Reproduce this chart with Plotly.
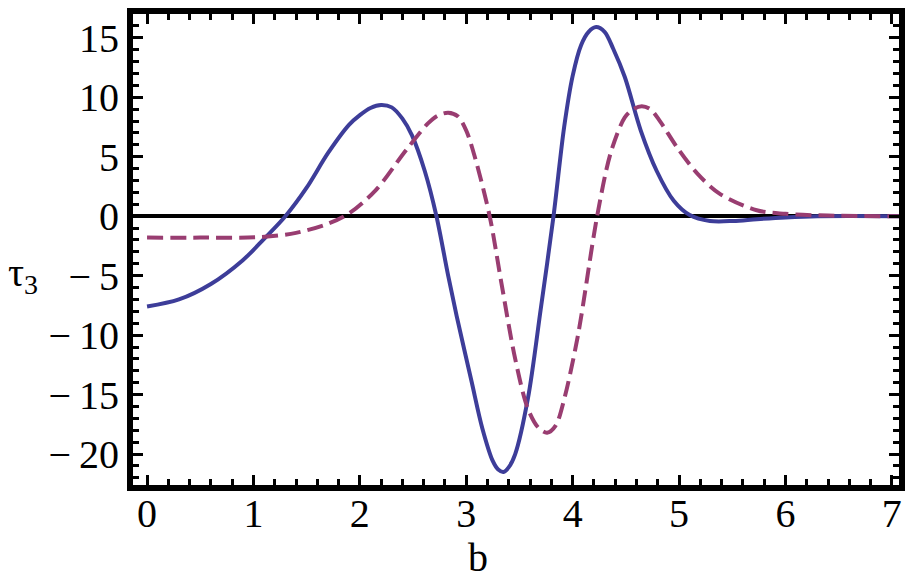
import plotly.graph_objects as go

# Blue solid curve
b_blue = [0, 0.3, 0.6, 0.9, 1.1, 1.3, 1.5, 1.7, 1.9, 2.0, 2.1, 2.2, 2.3, 2.4, 2.49, 2.61, 2.72,
          2.83, 2.91, 3.05, 3.15, 3.25, 3.3, 3.35, 3.4, 3.46, 3.58, 3.70, 3.82, 3.92, 4.0, 4.08,
          4.15, 4.22, 4.3, 4.38, 4.49, 4.64, 4.79, 4.95, 5.10, 5.29, 5.51, 5.73, 6.0, 6.3, 7.1]
tau_blue = [-7.6, -7.0, -5.7, -3.7, -1.9, 0, 2.4, 5.3, 7.7, 8.5, 9.1, 9.35, 9.15, 8.2, 6.8, 3.8, 0,
            -5.0, -8.4, -13.9, -17.8, -20.6, -21.3, -21.5, -21.1, -20.0, -15.3, -7.8, 0, 7.5, 11.8, 14.4,
            15.5, 15.9, 15.5, 14.1, 11.7, 7.2, 3.8, 1.3, 0.1, -0.4, -0.4, -0.25, -0.1, 0, 0]

# Magenta dashed curve
b_red = [0, 0.5, 1.08, 1.4, 1.71, 1.9, 2.15, 2.43, 2.64, 2.73, 2.83, 2.92, 3.0, 3.08, 3.22, 3.33, 3.46,
         3.58, 3.68, 3.76, 3.84, 3.92, 4.05, 4.23, 4.36, 4.49, 4.57, 4.65, 4.73, 4.82, 4.98, 5.17,
         5.38, 5.73, 6.0, 6.4, 7.1]
tau_red = [-1.8, -1.8, -1.75, -1.4, -0.6, 0.25, 2.2, 5.5, 7.8, 8.45, 8.7, 8.4, 7.2, 5.0, 0, -5.6, -12,
           -16.2, -17.8, -18.2, -17.6, -15.4, -10, 0, 5.4, 8.3, 9.0, 9.25, 9.0, 8.0, 5.8, 3.6,
           1.9, 0.5, 0.2, 0.05, 0]

x_ticks = [0, 1, 2, 3, 4, 5, 6, 7]
x_tick_labels = ["0", "1", "2", "3", "4", "5", "6", "7"]
y_ticks = [-20, -15, -10, -5, 0, 5, 10, 15]
y_tick_labels = ["\u2212\u200920", "\u2212\u200915", "\u2212\u200910", "\u2212\u20095", "0", "5", "10", "15"]

fig = go.Figure()
fig.add_trace(go.Scatter(x=b_blue, y=tau_blue, mode="lines",
                         line=dict(color="#3D3D99", width=4, shape="spline", smoothing=0.9)))
fig.add_trace(go.Scatter(x=b_red, y=tau_red, mode="lines",
                         line=dict(color="#993D71", width=4, dash="16px,7px", shape="spline", smoothing=0.9)))

serif = "Liberation Serif, Times New Roman, DejaVu Serif, serif"
font = dict(family=serif, size=40, color="black")
axis_common = dict(showline=True, linecolor="black", linewidth=6, mirror="ticks",
                   ticks="inside", ticklen=10, tickwidth=3, tickcolor="black",
                   showgrid=False, tickfont=font)

fig.update_xaxes(range=[-0.132, 7.067], tickvals=x_ticks, ticktext=x_tick_labels, zeroline=False,
                 ticklabelstandoff=-12,
                 minor=dict(ticks="inside", dtick=0.2, tick0=0, ticklen=6, tickwidth=3, tickcolor="black"),
                 **axis_common)
fig.update_yaxes(range=[-22.6, 17.0], tickvals=y_ticks, ticktext=y_tick_labels, zeroline=True,
                 zerolinecolor="black", zerolinewidth=4,
                 minor=dict(ticks="inside", dtick=1, tick0=0, ticklen=6, tickwidth=3, tickcolor="black"),
                 **axis_common)

fig.add_annotation(text="b", xref="paper", yref="paper", x=(481 - 133) / 772, y=(484.5 - 581) / 475.5,
                   showarrow=False, font=font, xanchor="center", yanchor="bottom", borderpad=0)
fig.add_annotation(text="τ<sub>3</sub>", xref="paper", yref="paper", x=(22 - 133) / 772, y=(484.5 - 272) / 475.5,
                   showarrow=False, font=dict(family=serif, size=40, color="black"),
                   xanchor="center", yanchor="middle")

fig.update_layout(width=913, height=582, margin=dict(l=133, r=8, t=9, b=97),
                  font=dict(family=serif),
                  plot_bgcolor="white", paper_bgcolor="white", showlegend=False)

fig.write_html("out.html", config={"displayModeBar": False},
               post_script="document.body.style.margin='0';document.body.style.overflow='hidden';")
